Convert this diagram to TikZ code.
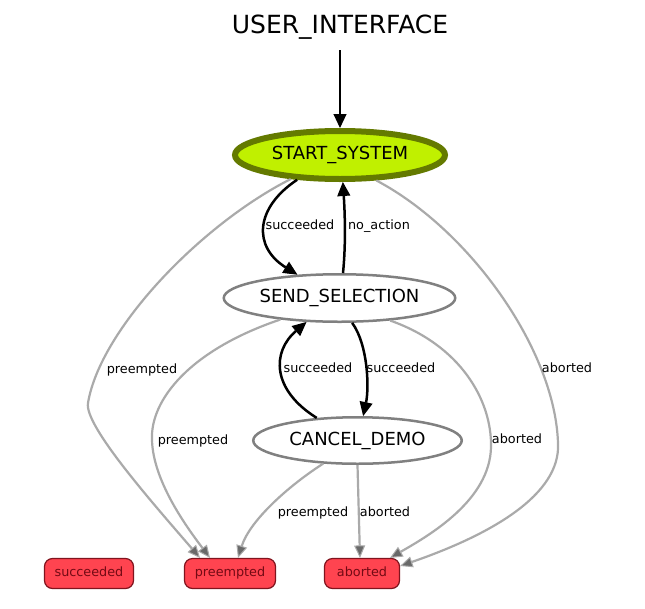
\documentclass[tikz,border=0pt]{standalone}
\usepackage{fontspec}
\setmainfont{DejaVu Sans}
\usetikzlibrary{arrows.meta,shapes.geometric}
\definecolor{startfill}{RGB}{192,240,0}
\definecolor{startdraw}{RGB}{100,122,0}
\definecolor{ellgray}{RGB}{128,128,128}
\definecolor{edgegray}{RGB}{170,170,170}
\definecolor{headgray}{RGB}{105,105,105}
\definecolor{boxfill}{RGB}{255,68,80}
\definecolor{boxdraw}{RGB}{128,20,30}
\definecolor{boxtext}{RGB}{115,10,20}
\begin{document}
\begin{tikzpicture}[x=1pt,y=-1pt,
  state/.style={ellipse, draw=ellgray, line width=2.5pt, fill=white, inner sep=0pt,
    font=\fontsize{18}{20}\selectfont, text height=13.7pt, text depth=4.3pt},
  startstate/.style={state, draw=startdraw, fill=startfill, line width=6pt},
  outcome/.style={rectangle, rounded corners=8pt, draw=boxdraw, fill=boxfill, line width=1.2pt,
    inner sep=0pt, minimum height=30pt, text=boxtext,
    font=\fontsize{12.8}{14}\selectfont, text height=9.5pt, text depth=3pt},
  lbl/.style={font=\fontsize{12.8}{14}\selectfont, inner sep=1pt, text height=9.5pt, text depth=3pt},
  blackedge/.style={draw=black, line width=2.5pt, -{Triangle[length=14pt,width=13pt,line width=1pt]}},
  grayedge/.style={draw=edgegray, line width=2.2pt, -{Triangle[length=12.5pt,width=11pt,fill=headgray,line width=1pt]}},
]
\fill[white] (0,0) rectangle (645,608);
\useasboundingbox (0,0) rectangle (645,608);

% nodes
\node[font=\fontsize{25}{28}\selectfont, anchor=base, inner sep=0pt] (ui) at (340,33) {USER\_INTERFACE};
\node[startstate, minimum width=210pt, minimum height=48pt] (ss) at (340,155) {START\_SYSTEM};
\node[state, minimum width=231.5pt, minimum height=47.5pt] (sel) at (339.5,298) {SEND\_SELECTION};
\node[state, minimum width=208.5pt, minimum height=46.5pt] (cd) at (357.5,440.5) {CANCEL\_DEMO};
\node[outcome, minimum width=89pt] (suc) at (89,573.5) {succeeded};
\node[outcome, minimum width=91pt] (pre) at (230,573.5) {preempted};
\node[outcome, minimum width=75pt] (abt) at (362,573.5) {aborted};

% black edges
\draw[blackedge] ([yshift=-17pt]ui.base) -- (ss.north);
\draw[blackedge] (ss.210) .. controls +(-42,28) and +(-45,-28) .. (sel.151);
\draw[blackedge] (sel.82) .. controls +(3,-30) and +(2,30) .. (ss.276);
\draw[blackedge] (sel.297) .. controls +(16,22) and +(6,-28) .. (cd.77);
\draw[blackedge] (cd.151) .. controls +(-45,-28) and +(-35,30) .. (sel.216);

% gray edges
\draw[grayedge] (ss.206) .. controls (200,225) and (100,330) .. (88,403)
  .. controls (84,425) and (150,500) .. ([xshift=-30pt]pre.north);
\draw[grayedge] (ss.325) .. controls (470,230) and (555,350) .. (558,443)
  .. controls (561,495) and (490,535) .. ([yshift=7.5pt]abt.east);
\draw[grayedge] (sel.200) .. controls (190,350) and (150,400) .. (152,440)
  .. controls (153,480) and (185,525) .. ([xshift=-20pt]pre.north);
\draw[grayedge] (sel.336) .. controls (460,345) and (492,400) .. (491,447)
  .. controls (490,500) and (430,535) .. ([xshift=28pt]abt.north);
\draw[grayedge] (cd.214) .. controls +(-33,21) and +(12,-38) .. ([xshift=8pt]pre.north);
\draw[grayedge] (cd.270) -- ([xshift=-2pt]abt.north);

% edge labels
\node[lbl] (l1) at (300,226) {succeeded};
\node[lbl] (l2) at (379,226) {no\_action};
\node[lbl] (l3) at (318,369) {succeeded};
\node[lbl] (l4) at (401,369) {succeeded};
\node[lbl] (l5) at (142,370) {preempted};
\node[lbl] (l6) at (567,369) {aborted};
\node[lbl] (l7) at (193,441) {preempted};
\node[lbl] (l8) at (517,440) {aborted};
\node[lbl] (l9) at (313,513) {preempted};
\node[lbl] (l10) at (385,513) {aborted};
\end{tikzpicture}
\end{document}
